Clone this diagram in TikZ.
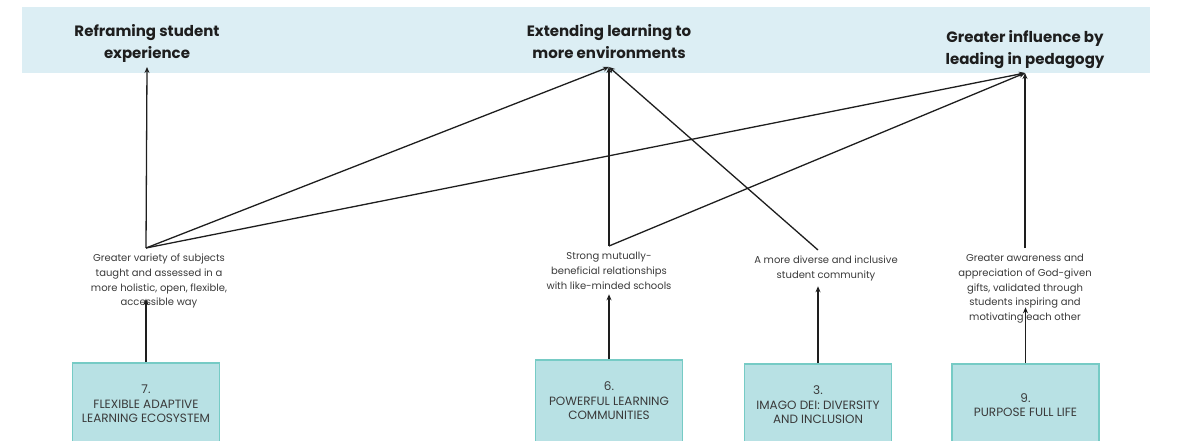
\documentclass[tikz,border=0pt]{standalone}
\usepackage{fontspec}
\setmainfont{Poppins}
\usetikzlibrary{arrows.meta,calc}
\definecolor{band}{HTML}{DCEEF4}
\definecolor{boxfill}{HTML}{B8E1E4}
\definecolor{boxline}{HTML}{76CBC5}
\definecolor{ink}{HTML}{1E1E1E}
\definecolor{txt}{HTML}{3A3A3A}
\tikzset{
  heading/.style={anchor=south, align=center, inner xsep=2pt, inner ysep=2pt, text=ink,
    font=\fontsize{15}{22}\selectfont\bfseries},
  outcome/.style={anchor=north, align=center, inner xsep=2pt, inner ysep=6pt, text=txt,
    font=\fontsize{10}{14.7}\selectfont},
  capbox/.style={anchor=north, draw=boxline, line width=1.8pt, fill=boxfill, align=center,
    minimum width=147pt, minimum height=82pt, text=txt, font=\fontsize{12}{14.5}\selectfont},
  link/.style={draw=ink, line width=1.3pt},
  arr/.style={link, -{Stealth[length=6pt,width=5pt]}}
}
\begin{document}
\begin{tikzpicture}[x=1pt,y=-1pt]
\useasboundingbox (0,0) rectangle (1204,441);
\clip (0,0) rectangle (1204,441);
\fill[band] (22,7) rectangle (1150,73);

\node[heading] (h1) at (147,67) {Reframing student\\experience\strut};
\node[heading] (h2) at (609,67) {Extending learning to\\more environments\strut};
\node[heading] (h3) at (1025,73) {Greater influence by\\leading in pedagogy\strut};

\node[outcome] (o1) at (159,248) {Greater variety of subjects\\taught and assessed in a\\more holistic, open, flexible,\\accessible way};
\node[outcome] (o2) at (609,246) {Strong mutually-\\beneficial relationships\\with like-minded schools};
\node[outcome] (o3) at (826,250) {A more diverse and inclusive\\student community};
\node[outcome] (o4) at (1025,248) {Greater awareness and\\appreciation of God-given\\gifts, validated through\\students inspiring and\\motivating each other};

\node[capbox] (b7) at (146,362) {7.\\FLEXIBLE ADAPTIVE\\LEARNING ECOSYSTEM};
\node[capbox] (b6) at (609,359) {6.\\POWERFUL LEARNING\\COMMUNITIES};
\node[capbox] (b3) at (818,363) {3.\\IMAGO DEI: DIVERSITY\\AND INCLUSION};
\node[capbox] (b9) at (1025.5,363) {9.\\PURPOSE FULL LIFE};

\draw[arr] (o1.north -| b7.north) -- (h1.south);
\draw[arr] (o1.north -| b7.north) -- (h2.south);
\draw[arr] (o1.north -| b7.north) -- (h3.south);
\draw[arr] (o2.north) -- (h2.south);
\draw[arr] (o2.north) -- (h3.south);
\draw[arr] (o3.north -| b3.north) -- (h2.south);
\draw[arr] (o4.north) -- (h3.south);

\draw[arr] (b7.north) -- ([yshift=16pt]o1.south -| b7.north);
\draw[arr] (b6.north) -- ([yshift=1pt]o2.south);
\draw[arr] (b3.north) -- ([yshift=1pt]o3.south -| b3.north);
\draw[arr] (b9.north) -- ([yshift=22pt]o4.south -| b9.north);
\end{tikzpicture}
\end{document}
